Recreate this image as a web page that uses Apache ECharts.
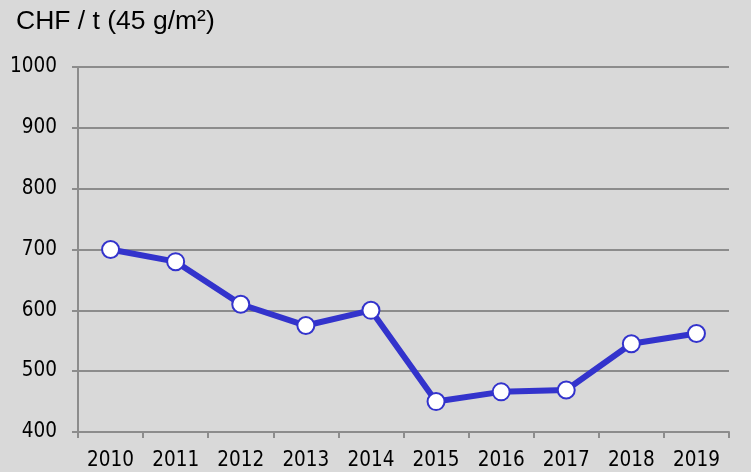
<!DOCTYPE html>
<html>
<head>
<meta charset="utf-8">
<script src="https://cdn.jsdelivr.net/npm/echarts@6/dist/echarts.min.js"></script>
<style>
html,body{margin:0;padding:0;background:#d9d9d9;}
#c{width:751px;height:472px;}
</style>
</head>
<body>
<div id="c"></div>
<script>
const years = ['2010','2011','2012','2013','2014','2015','2016','2017','2018','2019'];
const prices = [700, 680, 610, 575, 600, 450, 466, 469, 545, 562];
const yMin = 400, yMax = 1000, yStep = 100;
const titleText = 'CHF / t (45 g/m²)';

const labelFont = '"DejaVu Sans Condensed", "DejaVu Sans", sans-serif';
const chart = echarts.init(document.getElementById('c'), null, {renderer:'canvas'});
chart.setOption({
  backgroundColor: '#d9d9d9',
  animation: false,
  title: {
    text: titleText,
    left: 16, top: 8, padding: 0,
    textStyle: {fontFamily: 'Liberation Sans', fontSize: 26.5, fontWeight: 'normal', color: '#000'}
  },
  grid: {left: 78, right: 22, top: 67, bottom: 40, containLabel: false},
  xAxis: {
    type: 'category',
    data: years,
    boundaryGap: true,
    axisLine: {lineStyle: {color: '#8c8c8c', width: 2}},
    axisTick: {show: true, length: 6, lineStyle: {color: '#8c8c8c', width: 2}},
    axisLabel: {fontFamily: labelFont, fontSize: 20.5, color: '#000', margin: 18}
  },
  yAxis: {
    type: 'value',
    min: yMin, max: yMax, interval: yStep,
    axisLine: {show: true, lineStyle: {color: '#8c8c8c', width: 2}},
    axisTick: {show: true, length: 6, lineStyle: {color: '#8c8c8c', width: 2}},
    splitLine: {lineStyle: {color: '#8c8c8c', width: 2}},
    axisLabel: {fontFamily: labelFont, fontSize: 20.5, color: '#000', margin: 21,
      formatter: v => String(v)}
  },
  series: [{
    type: 'line',
    data: prices,
    symbol: 'circle',
    symbolSize: 17,
    lineStyle: {color: '#3333cc', width: 6},
    itemStyle: {color: '#ffffff', borderColor: '#3333cc', borderWidth: 2}
  }]
});
</script>
</body>
</html>
